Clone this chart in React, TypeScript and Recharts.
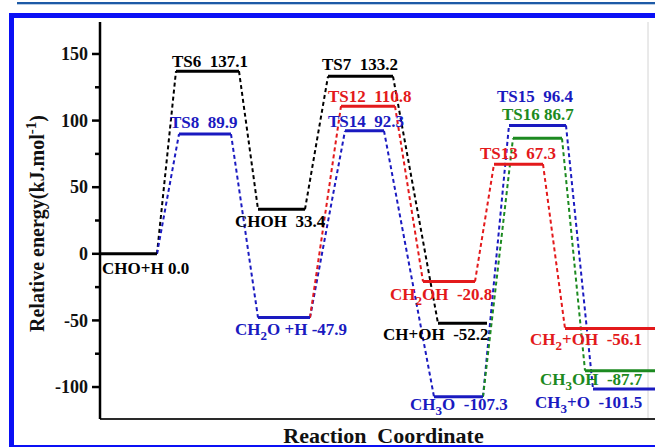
import type { ReactNode } from "react";
import { LineChart, Line, XAxis, YAxis, ReferenceDot, ReferenceLine } from "recharts";

// Energy levels (kJ/mol) along the reaction coordinate
const levelNames = [
  "CHO+H", "TS6", "TS8", "CHOH", "CH2O +H", "TS7", "TS12", "TS14", "CH2OH",
  "CH+OH", "CH3O", "TS13", "TS15", "TS16", "CH2+OH", "CH3OH", "CH3+O",
];
const levelEnergies = [
  0.0, 137.1, 89.9, 33.4, -47.9, 133.2, 110.8, 92.3, -20.8,
  -52.2, -107.3, 67.3, 96.4, 86.7, -56.1, -87.7, -101.5,
];
// where each plateau begins and ends on the reaction coordinate
const levelStart = [0, 15.2, 15.8, 31.6, 31.6, 45.6, 48.2, 49, 64.6, 67.6, 66.8, 78.8, 81.8, 82.6, 93, 97, 98.6];
const levelEnd = [11.4, 27.8, 26.2, 41, 42, 58.6, 59, 56.8, 75, 77.4, 76.6, 88.6, 93.2, 92.4, 111, 111, 111];

// reaction pathways, in order of the connected levels
const blackPath = ["CHO+H", "TS6", "CHOH", "TS7", "CH+OH"];
const bluePath = ["CHO+H", "TS8", "CH2O +H", "TS14", "CH3O", "TS15", "CH3+O"];
const redPath = ["CH2O +H", "TS12", "CH2OH", "TS13", "CH2+OH"];
const greenPath = ["CH3O", "TS16", "CH3OH"];

const yTicks = [-100, -75, -50, -25, 0, 25, 50, 75, 100, 125, 150];

const SERIF = "'Liberation Serif', 'Times New Roman', serif";

const pathways = [
  { id: "black", color: "#000000", levels: blackPath },
  { id: "blue", color: "#1a1ac0", levels: bluePath },
  { id: "red", color: "#e3191b", levels: redPath },
  { id: "green", color: "#1c8a20", levels: greenPath },
];

// text placement: [dx, dy] in px from the left end of the plateau, and the gap before the value
const labelOffsets: Record<string, [number, number, string]> = {
  "CHO+H": [2, 20, " "],
  TS6: [-4, -4, "  "],
  TS8: [-9, -6, "  "],
  CHOH: [-23, 18, "  "],
  "CH2O +H": [-23, 17, " "],
  TS7: [-6, -6, "  "],
  TS12: [-13, -4, "  "],
  TS14: [-17, -4, "  "],
  CH2OH: [-33, 18, "  "],
  "CH+OH": [-55, 17, "  "],
  CH3O: [-24, 13, "  "],
  TS13: [-14, -5, "  "],
  TS15: [-12, -23, "  "],
  TS16: [-11, -18, " "],
  "CH2+OH": [-35, 16, "  "],
  CH3OH: [-45, 14, "  "],
  "CH3+O": [-58, 19, "  "],
};

const idx = (name: string) => levelNames.indexOf(name);

const levelColor = (name: string) =>
  (pathways.find((p) => p.levels.includes(name)) ?? pathways[0]).color;

const plateaus = levelNames.map((name, i) => ({
  name,
  color: levelColor(name),
  data: [
    { x: levelStart[i], y: levelEnergies[i] },
    { x: levelEnd[i], y: levelEnergies[i] },
  ],
}));

const connectors = pathways.flatMap((p) =>
  p.levels.slice(1).map((to, k) => {
    const a = idx(p.levels[k]);
    const b = idx(to);
    return {
      key: `${p.id}-${p.levels[k]}-${to}`,
      color: p.color,
      data: [
        { x: levelEnd[a], y: levelEnergies[a] },
        { x: levelStart[b], y: levelEnergies[b] },
      ],
    };
  })
);

// species names get subscripted digits, transition states do not
function formula(name: string): ReactNode[] {
  if (name.startsWith("TS")) return [name];
  let lowered = false;
  return name
    .split(/(\d+)/)
    .filter(Boolean)
    .map((part, k) => {
      if (/^\d+$/.test(part)) {
        lowered = true;
        return (
          <tspan key={k} dy={5} fontSize={13}>
            {part}
          </tspan>
        );
      }
      const dy = lowered ? -5 : undefined;
      lowered = false;
      return (
        <tspan key={k} dy={dy}>
          {part}
        </tspan>
      );
    });
}

const levelLabel = (i: number) => (props: any) => {
  const vb = props.viewBox ?? { x: 0, y: 0, width: 0, height: 0 };
  const cx = vb.x + (vb.width ?? 0) / 2;
  const cy = vb.y + (vb.height ?? 0) / 2;
  const name = levelNames[i];
  const [dx, dy, gap] = labelOffsets[name];
  return (
    <text
      x={cx + dx}
      y={cy + dy}
      fill={levelColor(name)}
      fontFamily={SERIF}
      fontWeight="bold"
      fontSize={17}
      style={{ whiteSpace: "pre" }}
    >
      {formula(name)}
      <tspan>{gap + levelEnergies[i].toFixed(1)}</tspan>
    </text>
  );
};

function EnergyTick(props: any) {
  const { x, y, payload } = props;
  const major = payload.value % 50 === 0;
  return (
    <g>
      <line x1={x - (major ? 8 : 5)} x2={x} y1={y} y2={y} stroke="#000" strokeWidth={2.5} />
      {major && (
        <text
          x={x - 12}
          y={y}
          dy="0.35em"
          textAnchor="end"
          fontFamily={SERIF}
          fontWeight="bold"
          fontSize={18}
          fill="#111"
        >
          {payload.value}
        </text>
      )}
    </g>
  );
}

const yLabel = (props: any) => {
  const vb = props.viewBox ?? { x: 0, y: 22, width: 100, height: 397 };
  const cx = 44;
  const cy = vb.y + vb.height / 2 + 3;
  return (
    <text
      x={cx}
      y={cy}
      transform={`rotate(-90, ${cx}, ${cy})`}
      textAnchor="middle"
      fontFamily={SERIF}
      fontWeight="bold"
      fontSize={20}
      fill="#111"
    >
      Relative energy(kJ.mol
      <tspan dy={-8} fontSize={15}>
        -1
      </tspan>
      <tspan dy={8}>)</tspan>
    </text>
  );
};

const xLabel = (props: any) => {
  const vb = props.viewBox ?? { x: 100, y: 419, width: 555, height: 28 };
  return (
    <text
      x={vb.x + vb.width / 2 + 6}
      y={vb.y + 24}
      textAnchor="middle"
      fontFamily={SERIF}
      fontWeight="bold"
      fontSize={22}
      fill="#111"
      style={{ whiteSpace: "pre" }}
    >
      {"Reaction  Coordinate"}
    </text>
  );
};

export default function App() {
  return (
    <div
      style={{
        position: "relative",
        width: 655,
        height: 447,
        overflow: "hidden",
        background: "#fff",
      }}
    >
      <style>{"body{margin:0}"}</style>
      <div style={{ position: "absolute", left: 17, top: 2, right: 0, height: 2, background: "#1d5aa6" }} />
      <div style={{ position: "absolute", left: 17, top: 4, right: 0, height: 1, background: "#b8cce4" }} />
      <div
        style={{
          position: "absolute",
          left: 9,
          top: 13,
          width: 700,
          height: 437,
          border: "5px solid #0a10f5",
          boxSizing: "border-box",
        }}
      />
      <div style={{ position: "absolute", left: 0, top: 0 }}>
        <LineChart width={655} height={447} margin={{ top: 22, right: 0, bottom: 0, left: 0 }}>
          <XAxis
            type="number"
            dataKey="x"
            domain={[0, 111]}
            allowDataOverflow
            height={28}
            tick={false}
            tickLine={false}
            axisLine={{ stroke: "#2a2a2a", strokeWidth: 2 }}
            label={xLabel}
          />
          <XAxis
            xAxisId="top"
            orientation="top"
            type="number"
            domain={[0, 111]}
            allowDataOverflow
            height={0}
            tick={false}
            tickLine={false}
            axisLine={{ stroke: "#000", strokeWidth: 3 }}
          />
          <YAxis
            type="number"
            domain={[-124, 174]}
            allowDataOverflow
            ticks={yTicks}
            interval={0}
            width={100}
            tickSize={0}
            tickMargin={0}
            tickLine={false}
            axisLine={{ stroke: "#000", strokeWidth: 2.5 }}
            tick={(p: any) => <EnergyTick {...p} />}
            label={yLabel}
          />
          <ReferenceLine x={109.6} stroke="#d4d4d4" strokeWidth={1} />
          {connectors.map((c) => (
            <Line
              key={c.key}
              data={c.data}
              dataKey="y"
              stroke={c.color}
              strokeWidth={2}
              strokeDasharray="4 3"
              dot={false}
              activeDot={false}
              legendType="none"
              isAnimationActive={false}
            />
          ))}
          {plateaus.map((p) => (
            <Line
              key={p.name}
              data={p.data}
              dataKey="y"
              stroke={p.color}
              strokeWidth={3}
              dot={false}
              activeDot={false}
              legendType="none"
              isAnimationActive={false}
            />
          ))}
          {levelNames.map((name, i) => (
            <ReferenceDot
              key={`label-${name}`}
              x={levelStart[i]}
              y={levelEnergies[i]}
              r={0}
              fill="none"
              stroke="none"
              ifOverflow="visible"
              label={levelLabel(i)}
            />
          ))}
        </LineChart>
      </div>
    </div>
  );
}
